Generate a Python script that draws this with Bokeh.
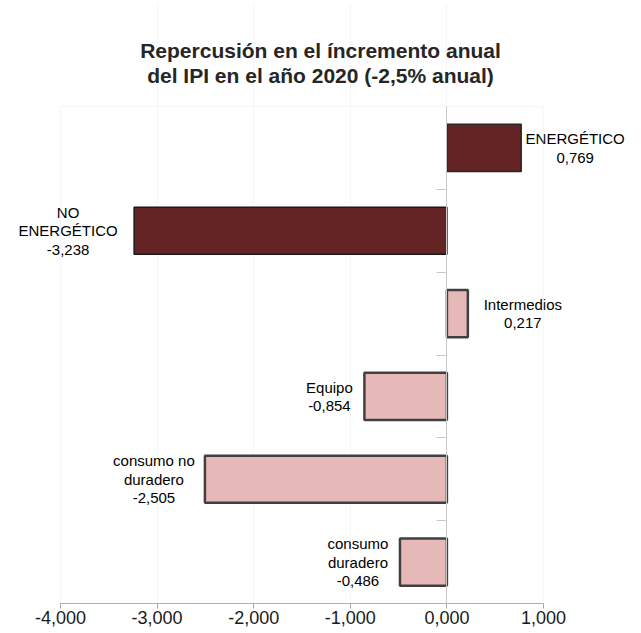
from bokeh.plotting import figure
from bokeh.models import (ColumnDataSource, Range1d, FixedTicker, CustomJSTickFormatter,
                          LinearAxis, BoxAnnotation)
from bokeh.core.properties import value
from bokeh.embed import file_html
from bokeh.resources import INLINE

# ---- data ----
title_lines = ["Repercusión en el íncremento anual", "del IPI en el año 2020 (-2,5% anual)"]
categories = ["ENERGÉTICO", "NO\nENERGÉTICO", "Intermedios", "Equipo",
              "consumo no\nduradero", "consumo\nduradero"]
values = [0.769, -3.238, 0.217, -0.854, -2.505, -0.486]
value_labels = ["0,769", "-3,238", "0,217", "-0,854", "-2,505", "-0,486"]
x_ticks = [-4, -3, -2, -1, 0, 1]

# ---- styles ----
fills = ["#632423", "#632423", "#E6B8B7", "#E6B8B7", "#E6B8B7", "#E6B8B7"]
outlines = ["#262626", "#1a1a1a", "#404040", "#404040", "#404040", "#404040"]
widths = [1.5, 1.5, 2.5, 2.5, 2.5, 2.5]
label_dx = [54, -66, 55, -35, -51, -42]  # pixel offsets of label centre from bar end

n = len(categories)
ypos = [n - i - 0.5 for i in range(n)]
texts = [c + "\n" + v for c, v in zip(categories, value_labels)]
xmin, xmax = min(x_ticks), max(x_ticks)

# ---- layout (pixels) ----
W, H = 640, 632
area_left, area_right, area_top, area_bottom = 60, 543, 106, 603
frame_left, frame_right, frame_top = 4, W - 4, 2
title_centre_x, title_y_px = 320, [50, 75]

ppu_x = (area_right - area_left) / (xmax - xmin)
ppu_y = (area_bottom - area_top) / n
x_start = xmin - (area_left - frame_left) / ppu_x
x_end = xmax + (frame_right - area_right) / ppu_x
y_end = n + (area_top - frame_top) / ppu_y

src = ColumnDataSource(dict(y=ypos, v=values, left=[min(0, v) for v in values],
                            right=[max(0, v) for v in values],
                            fill=fills, line=outlines, lw=widths))

p = figure(width=W, height=H, output_backend="svg", toolbar_location=None,
           x_range=Range1d(x_start, x_end), y_range=Range1d(0, y_end),
           y_axis_location=None,
           min_border_left=frame_left, min_border_right=W - frame_right,
           min_border_top=frame_top, min_border_bottom=H - area_bottom,
           background_fill_color="white", border_fill_color="white")
p.outline_line_color = None

# x axis
p.xaxis.ticker = FixedTicker(ticks=x_ticks)
p.xaxis.bounds = (xmin, xmax)
p.xaxis.formatter = CustomJSTickFormatter(code="return tick.toFixed(3).replace('.', ',');")
p.xaxis.axis_line_color = "#a6a6a6"
p.xaxis.major_tick_line_color = "#a6a6a6"
p.xaxis.major_tick_out = 5
p.xaxis.major_tick_in = 0
p.xaxis.minor_tick_line_color = None
p.xaxis.major_label_standoff = 2
p.xaxis.major_label_text_font = "Liberation Sans"
p.xaxis.major_label_text_font_size = "18px"
p.xaxis.major_label_text_color = "#1a1a1a"

# category axis at zero (separator ticks, no labels)
yax = LinearAxis(fixed_location=0, ticker=FixedTicker(ticks=list(range(1, n))),
                 bounds=(0, n), formatter=CustomJSTickFormatter(code="return '';"),
                 major_tick_out=10, major_tick_in=0,
                 minor_tick_line_color=None, axis_line_color="#c8c8c8",
                 major_tick_line_color="#c8c8c8", major_label_standoff=0)
p.add_layout(yax, "left")

# grid
p.xgrid.ticker = FixedTicker(ticks=x_ticks[1:-1])
p.xgrid.bounds = (0, n)
p.xgrid.grid_line_color = "#ececf0"
p.xgrid.grid_line_dash = "2 2"
p.ygrid.grid_line_color = None

# plot-area border
p.add_layout(BoxAnnotation(left=xmin, right=xmax, bottom=0, top=n, fill_color=None,
                           line_color="#e8e8ee", line_width=1.5))

p.hbar(y="y", left="left", right="right", height=0.57, source=src,
       fill_color="fill", line_color="line", line_width="lw")

lsrc = ColumnDataSource(dict(x=values, y=ypos, t=texts, dx=label_dx))
p.text(x="x", y="y", text="t", x_offset="dx", source=lsrc,
       text_align="center", text_baseline="middle",
       text_font=value("Liberation Sans"), text_font_size="15px", text_color="#000000",
       text_line_height=1.1)

# title (two centred bold lines above the plot area)
tx = x_start + (title_centre_x - frame_left) / ppu_x
tsrc = ColumnDataSource(dict(x=[tx] * len(title_lines),
                             y=[n + (area_top - py) / ppu_y for py in title_y_px],
                             t=title_lines))
p.text(x="x", y="y", text="t", source=tsrc, text_align="center", text_baseline="middle",
       text_font=value("Liberation Sans"), text_font_size="21px", text_font_style="bold",
       text_color="#262626")

open("out.html", "w").write(file_html(p, INLINE))
